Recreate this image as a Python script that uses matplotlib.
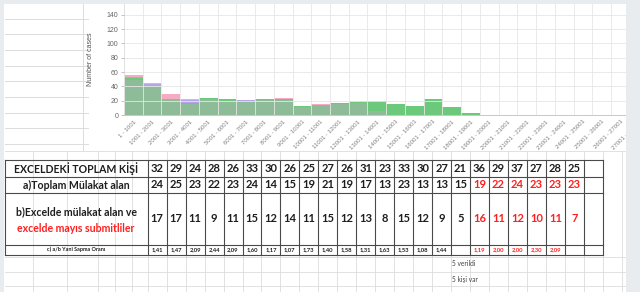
import matplotlib
matplotlib.use('Agg')
import matplotlib.pyplot as plt
from matplotlib.patches import Rectangle

W, H = 640, 292

# ---- histogram (Number of cases per range) ----
bin_labels = ['1 - 1001', '1001 - 2001', '2001 - 3001', '3001 - 4001', '4001 - 5001',
              '5001 - 6001', '6001 - 7001', '7001 - 8001', '8001 - 9001', '9001 - 10001',
              '10001 - 11001', '11001 - 12001', '12001 - 13001', '13001 - 14001',
              '14001 - 15001', '15001 - 16001', '16001 - 17001', '17001 - 18001',
              '18001 - 19001', '19001 - 20001', '20001 - 21001', '21001 - 22001',
              '22001 - 23001', '23001 - 24001', '24001 - 25001', '25001 - 26001',
              '26001 - 27001', '27001 - 28001']
muted = [49, 40, 22, 16, 22, 20, 18, 21, 21, 11, 14, 15, 17, 5, 0, 0, 0, 0, 0,
         0, 0, 0, 0, 0, 0, 0, 0, 0]
green = [2, 1, 1, 1, 2, 2, 2, 2, 1, 2, 0, 2, 1, 14, 16, 12, 22, 11, 3,
         0, 0, 0, 0, 0, 0, 0, 0, 0]
purple = [2, 2, 0, 4, 0, 0, 1, 0, 0, 0, 0, 0, 0, 0, 0, 0, 0, 0, 0,
          0, 0, 0, 0, 0, 0, 0, 0, 0]
pink = [3, 2, 6, 2, 0, 0, 0, 0, 2, 0, 2, 0, 2, 0, 0, 0, 0, 0, 0,
        0, 0, 0, 0, 0, 0, 0, 0, 0]

# ---- table below the chart ----
row_titles = ['EXCELDEKİ TOPLAM KİŞİ', 'a)Toplam Mülakat alan']
excel_total = [32, 29, 24, 28, 26, 33, 30, 26, 25, 27, 26, 31, 23, 33, 30, 27, 21,
               36, 29, 37, 27, 28, 25]
interviewed = [24, 25, 23, 22, 23, 24, 14, 15, 19, 21, 19, 17, 13, 23, 13, 13, 15,
               19, 22, 24, 23, 23, 23]
submitted = [17, 17, 11, 9, 11, 15, 12, 14, 11, 15, 12, 13, 8, 15, 12, 9, 5,
             16, 11, 12, 10, 11, 7]
ratio = [1.41, 1.47, 2.09, 2.44, 2.09, 1.60, 1.17, 1.07, 1.73, 1.40, 1.58, 1.31,
         1.63, 1.53, 1.08, 1.44, None, 1.19, 2.00, 2.00, 2.30, 2.09, None]
red_from = 17
notes = ['5 verildi', '5 kişi var']

RED = '#ff1f1f'
INK = '#1e1e1e'
GRID = '#dcdcdc'
PANEL = '#e9ecef'

fig = plt.figure(figsize=(W / 100, H / 100), dpi=100)
fig.patch.set_facecolor('white')

# background / spreadsheet layer in pixel coordinates
bg = fig.add_axes([0, 0, 1, 1], zorder=0)
bg.set_xlim(0, W)
bg.set_ylim(H, 0)
bg.axis('off')

# spreadsheet cells on the left of the chart
for y in [19, 34, 50, 66, 81, 97, 113, 128, 144]:
    bg.plot([5, 88], [y, y], color=GRID, lw=0.7)
bg.plot([83, 83], [4, 150], color=GRID, lw=0.7)

# spreadsheet grid around the table
col_w = 18.96
x0 = 147.7
col_edges = [x0 + col_w * k for k in range(25)]
for x in [33, 67, 98, 115, 132] + col_edges + [x0 + col_w * 25]:
    bg.plot([x, x], [151, H], color=GRID, lw=0.6)
for y in [151, 257, 272, 286]:
    bg.plot([5, 626], [y, y], color=GRID, lw=0.6)

# table
row_edges = [159.5, 177, 192.5, 244.5, 254.5]
left = 4.5
right = col_edges[-1]
bg.add_patch(Rectangle((left, row_edges[0]), right - left, row_edges[-1] - row_edges[0],
                       facecolor='white', edgecolor='none', zorder=1))
for y in row_edges:
    bg.plot([left, right], [y, y], color='#4a4a4a', lw=0.8, zorder=2)
for x in [left] + col_edges:
    bg.plot([x, x], [row_edges[0], row_edges[-1]], color='#4a4a4a', lw=0.8, zorder=2)

tfont = dict(family=['Lato', 'DejaVu Sans'], weight='bold')
label_cx = (left + x0) / 2
bg.text(label_cx, 168.5, row_titles[0], ha='center', va='center', fontsize=7.6, color=INK, **tfont)
bg.text(label_cx, 185, row_titles[1], ha='center', va='center', fontsize=7.6, color=INK, **tfont)
bg.text(label_cx, 212, 'b)Excelde mülakat alan ve', ha='center', va='center',
        fontsize=7.6, color=INK, **tfont)
bg.text(label_cx, 228, 'excelde mayıs submitliler', ha='center', va='center',
        fontsize=7.6, color=RED, **tfont)
bg.text(label_cx, 249.7, 'c) a/b Yani Sapma Oranı', ha='center', va='center',
        fontsize=3.9, color=INK, **tfont)

for i in range(len(excel_total)):
    cx = x0 + col_w * (i + 0.5)
    c = RED if i >= red_from else INK
    bg.text(cx, 168.5, str(excel_total[i]), ha='center', va='center', fontsize=8, color=INK, **tfont)
    bg.text(cx, 185, str(interviewed[i]), ha='center', va='center', fontsize=8, color=c, **tfont)
    bg.text(cx, 218, str(submitted[i]), ha='center', va='center', fontsize=8, color=c, **tfont)
    if ratio[i] is not None:
        bg.text(cx, 249.7, f'{ratio[i]:.2f}'.replace('.', ','), ha='center', va='center',
                fontsize=4.2, color=c, **tfont)

for j, note in enumerate(notes):
    bg.text(452, 263.5 + j * 16, note, ha='left', va='center', fontsize=4.8,
            color='#444444', family=['Lato', 'DejaVu Sans'])

# ---- chart ----
ax_left, ax_bottom = 124, 115
bin_px = 18.73
ax = fig.add_axes([ax_left / W, (H - ax_bottom) / H, len(bin_labels) * bin_px / W, 111 / H],
                  zorder=2)
ax.patch.set_alpha(0)

pos = list(range(len(bin_labels)))
bottom = [0] * len(pos)
for vals, col in [(muted, '#8fbc98'), (green, '#6cc97b'), (purple, '#b5a4e8'), (pink, '#f6aac4')]:
    ax.bar(pos, vals, width=1.0, align='edge', bottom=bottom, color=col, linewidth=0, zorder=2)
    bottom = [b + v for b, v in zip(bottom, vals)]

ax.set_xlim(0, len(bin_labels))
ax.set_ylim(0, 155)
ax.set_yticks(range(0, 141, 20))
ax.set_xticks([p + 0.5 for p in pos])
ax.set_xticks(range(len(bin_labels) + 1), minor=True)
ax.set_xticklabels(bin_labels, rotation=45, ha='right', rotation_mode='anchor',
                   fontsize=4.3, color='#808080', family=['Liberation Sans', 'DejaVu Sans'])
for t in ax.get_yticklabels():
    t.set_fontsize(5)
    t.set_color('#666666')
    t.set_family(['Liberation Sans', 'DejaVu Sans'])
ax.tick_params(axis='x', which='both', length=0, pad=3)
ax.tick_params(axis='y', length=2.5, width=0.5, color='#aaaaaa', pad=1.5)
ax.grid(which='minor', axis='x', color='#e6e6e6', lw=0.6, zorder=3)
ax.grid(which='major', axis='y', color='#e6e6e6', lw=0.6, zorder=3)
ax.set_axisbelow(False)
for s in ['top', 'right']:
    ax.spines[s].set_visible(False)
ax.spines['left'].set_color('#c8c8c8')
ax.spines['bottom'].set_color('#c8c8c8')
ax.spines['left'].set_linewidth(0.7)
ax.spines['bottom'].set_linewidth(0.7)
ax.set_ylabel('Number of cases', fontsize=5, color='#555555',
              family=['Liberation Sans', 'DejaVu Sans'], labelpad=9)

# grey frame of the screenshot
top = fig.add_axes([0, 0, 1, 1], zorder=10)
top.set_xlim(0, W)
top.set_ylim(H, 0)
top.axis('off')
top.patch.set_alpha(0)
top.add_patch(Rectangle((626, 0), W - 626, H, facecolor=PANEL, edgecolor='none'))
top.add_patch(Rectangle((0, 0), W, 4, facecolor=PANEL, edgecolor='none'))
top.add_patch(Rectangle((0, 0), 4, H, facecolor=PANEL, edgecolor='none'))

fig.savefig('out.png', dpi=100)
